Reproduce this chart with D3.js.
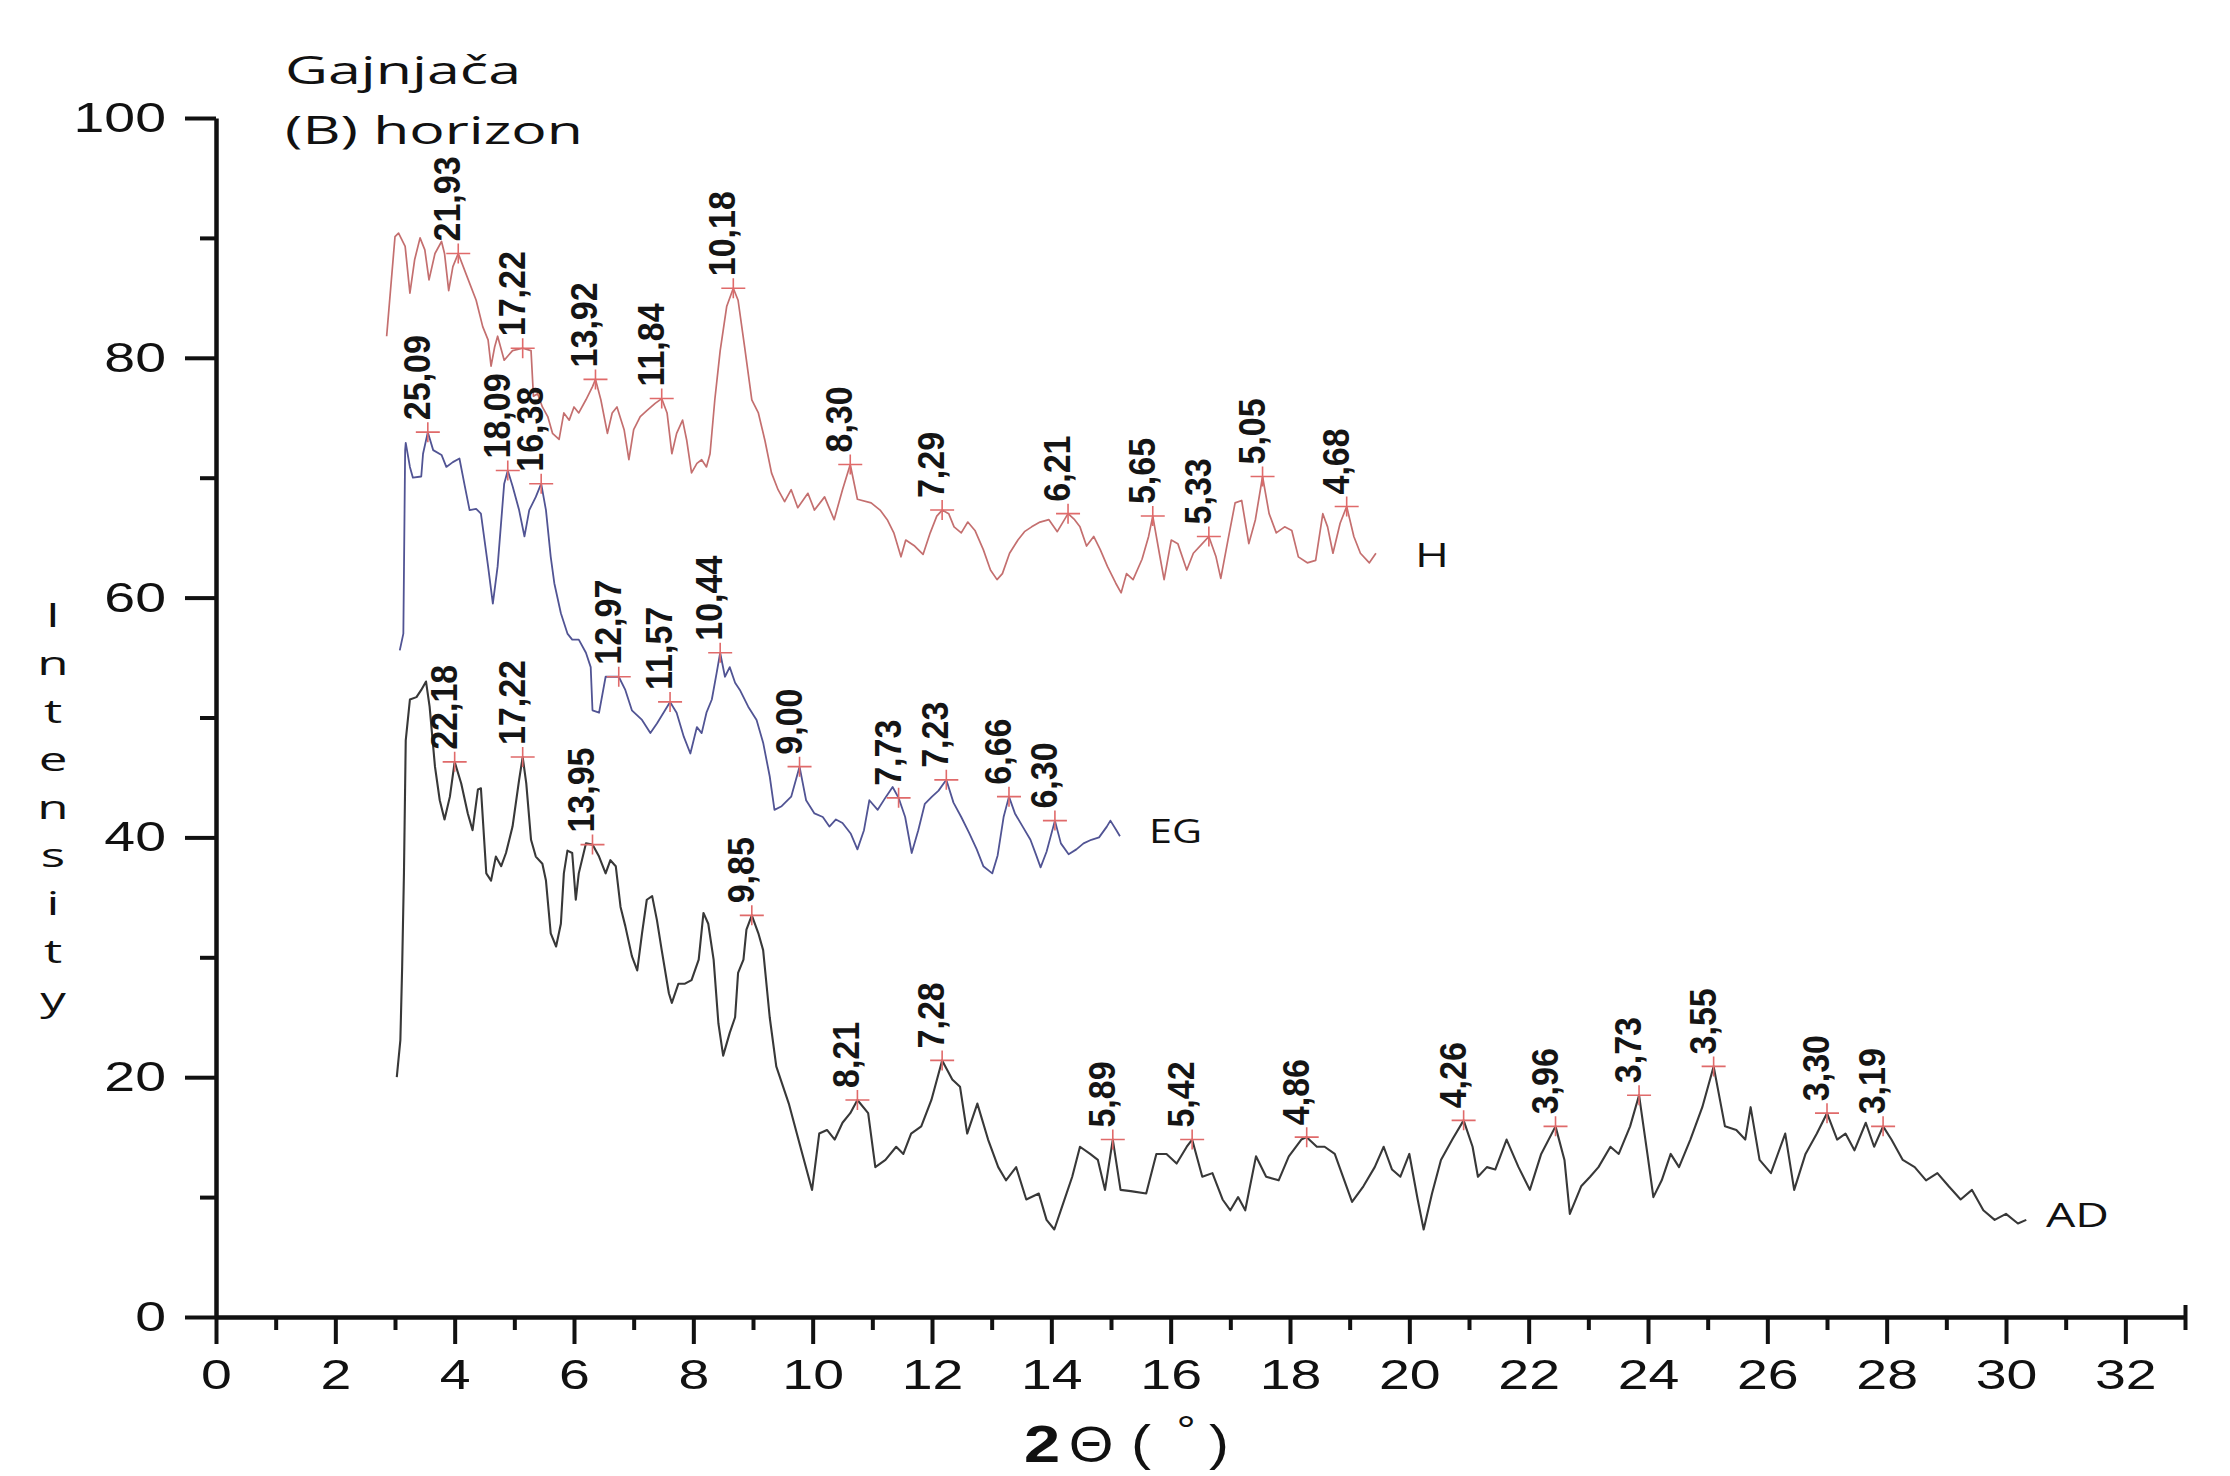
<!DOCTYPE html>
<html><head><meta charset="utf-8">
<script src="https://cdn.jsdelivr.net/npm/d3@7"></script>
<style>html,body{margin:0;padding:0;background:#fff}</style>
</head><body>
<svg id="c" width="2230" height="1476"></svg>
<script>
// ---------- DATA ----------
const xMajorTicks = [0,2,4,6,8,10,12,14,16,18,20,22,24,26,28,30,32];
const xMinorTicks = [1,3,5,7,9,11,13,15,17,19,21,23,25,27,29,31];
const yMajorTicks = [0,20,40,60,80,100];
const yMinorTicks = [10,30,50,70,90];

const seriesNames = ["H","EG","AD"];

const traceH = [[2.86,81.8],[3.0,90.1],[3.06,90.4],[3.17,89.3],[3.25,85.4],[3.33,88.2],[3.42,90.0],[3.5,89.0],[3.57,86.5],[3.67,88.7],[3.78,89.7],[3.83,88.7],[3.9,85.6],[3.97,87.6],[4.06,88.7],[4.19,87.0],[4.36,84.8],[4.47,82.6],[4.56,81.5],[4.61,79.3],[4.67,80.9],[4.72,81.8],[4.83,79.8],[4.97,80.6],[5.14,80.8],[5.28,80.6],[5.32,76.8],[5.39,77.0],[5.47,75.9],[5.56,75.1],[5.64,73.7],[5.75,73.2],[5.83,75.4],[5.92,74.8],[6.0,75.9],[6.08,75.4],[6.2,76.5],[6.31,77.6],[6.36,78.2],[6.45,76.5],[6.56,73.7],[6.64,75.4],[6.72,75.9],[6.84,74.0],[6.92,71.5],[7.0,74.0],[7.11,75.1],[7.22,75.6],[7.36,76.2],[7.47,76.6],[7.56,75.4],[7.64,72.0],[7.72,73.7],[7.82,74.8],[7.89,73.1],[7.97,70.4],[8.06,71.2],[8.14,71.5],[8.22,70.9],[8.28,72.0],[8.36,76.5],[8.45,80.6],[8.56,84.3],[8.67,85.8],[8.75,84.8],[8.86,80.9],[8.98,76.5],[9.09,75.4],[9.2,73.1],[9.31,70.4],[9.42,69.0],[9.53,68.0],[9.64,69.0],[9.75,67.5],[9.92,68.7],[10.03,67.3],[10.2,68.4],[10.36,66.5],[10.5,69.0],[10.63,71.1],[10.75,68.2],[10.98,67.9],[11.13,67.3],[11.25,66.5],[11.36,65.4],[11.48,63.4],[11.56,64.8],[11.71,64.3],[11.85,63.6],[11.97,65.4],[12.08,66.8],[12.17,67.3],[12.28,67.0],[12.37,65.9],[12.49,65.4],[12.6,66.3],[12.72,65.6],[12.86,64.0],[12.98,62.3],[13.09,61.5],[13.18,62.0],[13.3,63.7],[13.44,64.8],[13.55,65.5],[13.67,65.9],[13.81,66.3],[13.96,66.5],[14.1,65.5],[14.28,67.0],[14.39,66.5],[14.48,65.9],[14.59,64.3],[14.71,65.1],[14.82,64.0],[14.94,62.6],[15.08,61.2],[15.17,60.4],[15.26,62.0],[15.37,61.5],[15.52,63.2],[15.63,65.1],[15.7,66.8],[15.81,63.7],[15.89,61.5],[16.01,64.8],[16.12,64.5],[16.27,62.3],[16.38,63.7],[16.53,64.5],[16.64,65.1],[16.76,63.4],[16.84,61.6],[16.96,64.8],[17.08,67.9],[17.19,68.1],[17.31,64.5],[17.42,66.5],[17.54,70.1],[17.65,67.0],[17.77,65.4],[17.91,65.9],[18.03,65.6],[18.14,63.4],[18.29,62.9],[18.43,63.1],[18.55,67.0],[18.63,65.9],[18.72,63.7],[18.84,66.2],[18.95,67.6],[19.07,65.1],[19.18,63.7],[19.33,62.9],[19.44,63.7]];

const traceEG = [[3.08,55.6],[3.14,57.0],[3.17,72.3],[3.18,72.9],[3.25,70.9],[3.30,70.0],[3.44,70.1],[3.47,72.0],[3.55,73.8],[3.64,72.3],[3.78,71.9],[3.86,70.9],[3.97,71.3],[4.08,71.6],[4.17,69.3],[4.25,67.3],[4.36,67.4],[4.44,67.0],[4.56,62.6],[4.64,59.5],[4.72,62.6],[4.83,69.5],[4.89,70.6],[4.97,69.3],[5.08,67.3],[5.17,65.1],[5.25,67.3],[5.36,68.4],[5.45,69.5],[5.53,67.3],[5.61,63.4],[5.67,61.2],[5.78,58.7],[5.89,57.0],[5.97,56.5],[6.08,56.5],[6.20,55.4],[6.28,54.2],[6.31,50.6],[6.42,50.4],[6.53,53.4],[6.64,53.4],[6.75,53.4],[6.86,52.3],[6.97,50.6],[7.14,49.8],[7.28,48.7],[7.39,49.5],[7.50,50.4],[7.61,51.3],[7.72,50.4],[7.84,48.4],[7.95,47.0],[8.06,49.2],[8.14,48.7],[8.22,50.4],[8.31,51.5],[8.39,53.7],[8.45,55.4],[8.53,53.4],[8.61,54.2],[8.70,52.9],[8.78,52.3],[8.92,50.9],[9.06,49.8],[9.17,47.9],[9.28,45.1],[9.36,42.3],[9.48,42.6],[9.64,43.4],[9.78,45.9],[9.89,43.1],[10.03,42.0],[10.17,41.7],[10.28,40.9],[10.39,41.5],[10.50,41.2],[10.64,40.3],[10.75,39.0],[10.86,40.6],[10.95,43.1],[11.09,42.3],[11.23,43.4],[11.34,44.2],[11.44,43.3],[11.55,41.7],[11.66,38.7],[11.77,40.6],[11.88,42.8],[12.0,43.4],[12.11,43.9],[12.24,44.8],[12.36,42.9],[12.49,41.7],[12.62,40.4],[12.75,39.0],[12.86,37.6],[13.01,37.0],[13.1,38.5],[13.2,41.7],[13.29,43.4],[13.39,42.0],[13.52,40.9],[13.65,39.8],[13.74,38.6],[13.82,37.5],[13.92,38.8],[14.06,41.4],[14.16,39.5],[14.29,38.6],[14.42,39.0],[14.54,39.5],[14.67,39.8],[14.8,40.0],[14.93,40.9],[14.99,41.4],[15.09,40.6],[15.15,40.1]];

const traceAD = [[3.03,20.0],[3.09,23.1],[3.12,29.2],[3.15,37.0],[3.18,48.1],[3.25,51.5],[3.36,51.7],[3.44,52.3],[3.52,53.0],[3.58,50.9],[3.67,45.9],[3.75,43.1],[3.83,41.5],[3.92,43.4],[4.0,46.3],[4.11,44.5],[4.22,42.0],[4.30,40.6],[4.39,44.0],[4.44,44.1],[4.53,37.0],[4.61,36.4],[4.69,38.4],[4.78,37.6],[4.86,38.7],[4.97,40.9],[5.08,44.8],[5.14,46.7],[5.20,44.5],[5.28,39.8],[5.36,38.4],[5.47,37.8],[5.53,36.4],[5.61,32.0],[5.70,30.9],[5.78,32.8],[5.83,37.0],[5.89,38.9],[5.97,38.7],[6.03,34.8],[6.08,37.0],[6.20,39.5],[6.31,39.4],[6.42,38.4],[6.53,37.0],[6.61,38.1],[6.70,37.6],[6.78,34.2],[6.86,32.6],[6.97,30.1],[7.06,28.9],[7.14,32.0],[7.22,34.8],[7.31,35.1],[7.39,33.1],[7.47,30.6],[7.59,27.0],[7.64,26.2],[7.75,27.8],[7.86,27.8],[7.97,28.1],[8.09,29.8],[8.17,33.7],[8.25,32.8],[8.34,29.8],[8.42,24.5],[8.50,21.8],[8.61,23.7],[8.70,25.0],[8.75,28.7],[8.84,29.8],[8.89,32.3],[8.98,33.5],[9.09,32.0],[9.17,30.6],[9.28,25.0],[9.39,20.9],[9.6,17.8],[9.81,13.9],[9.99,10.6],[10.11,15.3],[10.24,15.6],[10.37,14.8],[10.5,16.2],[10.63,17.0],[10.75,18.1],[10.93,17.0],[11.05,12.5],[11.22,13.1],[11.40,14.2],[11.52,13.6],[11.65,15.3],[11.82,15.9],[11.99,18.1],[12.17,21.4],[12.34,19.8],[12.47,19.2],[12.59,15.3],[12.76,17.8],[12.94,14.8],[13.11,12.5],[13.24,11.4],[13.41,12.5],[13.58,9.8],[13.79,10.3],[13.92,8.1],[14.05,7.3],[14.18,9.2],[14.35,11.7],[14.48,14.2],[14.65,13.6],[14.78,13.1],[14.9,10.6],[15.03,14.8],[15.16,10.6],[15.33,10.5],[15.59,10.3],[15.76,13.6],[15.93,13.6],[16.1,12.8],[16.27,14.2],[16.36,14.8],[16.53,11.7],[16.7,12.0],[16.87,9.8],[17.0,8.9],[17.13,10.0],[17.25,8.9],[17.43,13.4],[17.6,11.7],[17.81,11.4],[17.98,13.4],[18.19,14.8],[18.28,15.0],[18.45,14.2],[18.58,14.2],[18.75,13.6],[19.04,9.6],[19.23,10.9],[19.42,12.5],[19.57,14.2],[19.71,12.3],[19.85,11.7],[20.0,13.6],[20.14,9.8],[20.24,7.3],[20.38,10.3],[20.53,13.1],[20.72,14.8],[20.91,16.4],[21.06,14.2],[21.15,11.7],[21.3,12.5],[21.44,12.3],[21.63,14.8],[21.83,12.5],[22.02,10.6],[22.21,13.6],[22.45,15.9],[22.6,13.1],[22.69,8.6],[22.88,10.9],[23.03,11.7],[23.17,12.5],[23.37,14.2],[23.51,13.6],[23.7,15.9],[23.85,18.5],[23.99,13.6],[24.09,10.0],[24.23,11.4],[24.38,13.6],[24.52,12.5],[24.71,14.8],[24.91,17.5],[25.1,20.9],[25.29,15.9],[25.48,15.6],[25.63,14.8],[25.72,17.5],[25.87,13.1],[26.06,12.0],[26.3,15.3],[26.45,10.6],[26.64,13.6],[26.83,15.3],[27.0,17.0],[27.17,14.8],[27.31,15.3],[27.46,13.9],[27.65,16.2],[27.79,14.2],[27.94,15.9],[28.08,14.8],[28.27,13.1],[28.47,12.5],[28.66,11.4],[28.85,12.0],[29.04,10.9],[29.24,9.8],[29.43,10.6],[29.62,8.9],[29.81,8.1],[30.0,8.6],[30.2,7.8],[30.34,8.1]];

// peak markers: [2theta, intensity, d-spacing label]
const peaksH = [[4.06,88.7,"21,93"],[5.14,80.8,"17,22"],[6.36,78.2,"13,92"],[7.47,76.6,"11,84"],[8.67,85.8,"10,18"],[10.63,71.1,"8,30"],[12.17,67.3,"7,29"],[14.28,67.0,"6,21"],[15.70,66.8,"5,65"],[16.64,65.1,"5,33"],[17.54,70.1,"5,05"],[18.95,67.6,"4,68"]];
const peaksEG = [[3.55,73.8,"25,09"],[4.89,70.6,"18,09"],[5.45,69.5,"16,38"],[6.75,53.4,"12,97"],[7.61,51.3,"11,57"],[8.45,55.4,"10,44"],[9.78,45.9,"9,00"],[11.44,43.3,"7,73"],[12.24,44.8,"7,23"],[13.29,43.4,"6,66"],[14.06,41.4,"6,30"]];
const peaksAD = [[4.0,46.3,"22,18"],[5.14,46.7,"17,22"],[6.31,39.4,"13,95"],[8.98,33.5,"9,85"],[10.75,18.1,"8,21"],[12.17,21.4,"7,28"],[15.03,14.8,"5,89"],[16.36,14.8,"5,42"],[18.28,15.0,"4,86"],[20.91,16.4,"4,26"],[22.45,15.9,"3,96"],[23.85,18.5,"3,73"],[25.1,20.9,"3,55"],[27.0,17.0,"3,30"],[27.94,15.9,"3,19"]];

const titleLines = ["Gajnjača","(B) horizon"];
const yTitleLetters = ["I","n","t","e","n","s","i","t","y"];

// ---------- DRAW ----------
const svg = d3.select("#c");
svg.append("rect").attr("width",2230).attr("height",1476).attr("fill","#fff");

const x = d3.scaleLinear().domain([0,33]).range([216,2185]);
const y = d3.scaleLinear().domain([0,100]).range([1317,118]);

const axisColor = "#111";
const tickFont = "'Liberation Sans', Arial, sans-serif";
const labelFont = "'Open Sans', 'Noto Sans', sans-serif";

// series
const line = d3.line().x(d=>x(d[0])).y(d=>y(d[1]));
const series = [
  {name:"H", data:traceH, color:"#c46f6f", w:1.7},
  {name:"EG", data:traceEG, color:"#515494", w:1.8},
  {name:"AD", data:traceAD, color:"#383838", w:2.1}
];
svg.append("g").selectAll("path").data(series).join("path")
  .attr("d",d=>line(d.data)).attr("fill","none")
  .attr("stroke",d=>d.color).attr("stroke-width",d=>d.w)
  .attr("stroke-linejoin","round");

// peak markers + labels
const allPeaks = [...peaksH, ...peaksEG, ...peaksAD];
const pg = svg.append("g");
pg.selectAll("path.mk").data(allPeaks).join("path").attr("class","mk")
  .attr("transform",d=>`translate(${x(d[0])},${y(d[1])})`)
  .attr("d","M-12,0H12M0,-10V10")
  .attr("stroke","#e06a6a").attr("stroke-width",1.6).attr("fill","none");
pg.selectAll("text").data(allPeaks).join("text")
  .attr("transform",d=>`translate(${x(d[0])+2},${y(d[1])-12}) rotate(-90) scale(1,1.1)`)
  .attr("text-anchor","start")
  .attr("font-family",tickFont).attr("font-size",34).attr("font-weight","bold")
  .attr("fill","#151515")
  .text(d=>d[2]);

// axes
function styleAxis(g){
  g.selectAll("path.domain").attr("stroke",axisColor).attr("stroke-width",4.5);
  g.selectAll(".tick line").attr("stroke",axisColor).attr("stroke-width",4);
}
const gx = svg.append("g").attr("transform",`translate(0,${y(0)})`)
  .call(d3.axisBottom(x).tickValues(xMajorTicks).tickSize(27).tickSizeOuter(0).tickPadding(15).tickFormat(d3.format("d")));
styleAxis(gx);
gx.selectAll(".tick text").attr("font-family",tickFont).attr("font-size",42)
  .attr("fill","#111").attr("transform","scale(1.32,1)");

const gxm = svg.append("g").attr("transform",`translate(0,${y(0)})`)
  .call(d3.axisBottom(x).tickValues(xMinorTicks.concat([33])).tickSize(13).tickFormat(""));
gxm.select(".domain").remove(); styleAxis(gxm);
const gxe = svg.append("g").attr("transform",`translate(0,${y(0)})`)
  .call(d3.axisTop(x).tickValues([33]).tickSize(12).tickFormat(""));
gxe.select(".domain").remove(); styleAxis(gxe);

const gy = svg.append("g").attr("transform",`translate(${x(0)},0)`)
  .call(d3.axisLeft(y).tickValues(yMajorTicks).tickSize(31).tickSizeOuter(0).tickFormat(d3.format("d")));
styleAxis(gy);
gy.selectAll(".tick text").attr("font-family",tickFont).attr("font-size",42)
  .attr("fill","#111").attr("x",-50/1.32).attr("transform","scale(1.32,1)");
const gym = svg.append("g").attr("transform",`translate(${x(0)},0)`)
  .call(d3.axisLeft(y).tickValues(yMinorTicks).tickSize(16).tickFormat(""));
gym.select(".domain").remove(); styleAxis(gym);

// series labels
const seriesLabelPos = {H:[1415,567,34], EG:[1149,843,53], AD:[2046,1227,63]};
svg.append("g").selectAll("text").data(seriesNames).join("text")
  .attr("x",d=>seriesLabelPos[d][0]).attr("y",d=>seriesLabelPos[d][1])
  .attr("textLength",d=>seriesLabelPos[d][2]).attr("lengthAdjust","spacingAndGlyphs")
  .attr("font-family",labelFont).attr("font-size",32).attr("fill","#111")
  .text(d=>d);

// title
const titleY = [84,144], titleW = [236,298];
svg.append("g").selectAll("text").data(titleLines).join("text")
  .attr("x",285).attr("y",(d,i)=>titleY[i])
  .attr("textLength",(d,i)=>titleW[i]).attr("lengthAdjust","spacingAndGlyphs")
  .attr("font-family",labelFont).attr("font-size",38).attr("fill","#111")
  .text(d=>d);

// y title (stacked letters)
svg.append("g").selectAll("text").data(yTitleLetters).join("text")
  .attr("transform",(d,i)=>`translate(53,${627+48*i}) scale(1.55,1)`)
  .attr("text-anchor","middle")
  .attr("font-family",labelFont).attr("font-size",33).attr("fill","#111")
  .text(d=>d);

// x title 2Θ ( ° )
const xt = svg.append("g").attr("fill","#111").attr("font-family",tickFont);
xt.append("text").attr("transform","translate(1042,1462) scale(1.25,1)").attr("text-anchor","middle")
  .attr("font-size",52).attr("font-weight","bold").text("2");
xt.append("text").attr("transform","translate(1091,1462) scale(1.15,1)").attr("text-anchor","middle")
  .attr("font-size",50).text("Θ");
xt.append("text").attr("transform","translate(1141,1460) scale(1.2,1)").attr("text-anchor","middle")
  .attr("font-size",50).text("(");
xt.append("text").attr("transform","translate(1186,1444) scale(1.2,1)").attr("text-anchor","middle")
  .attr("font-size",40).text("°");
xt.append("text").attr("transform","translate(1219,1460) scale(1.2,1)").attr("text-anchor","middle")
  .attr("font-size",50).text(")");
</script>
</body></html>
